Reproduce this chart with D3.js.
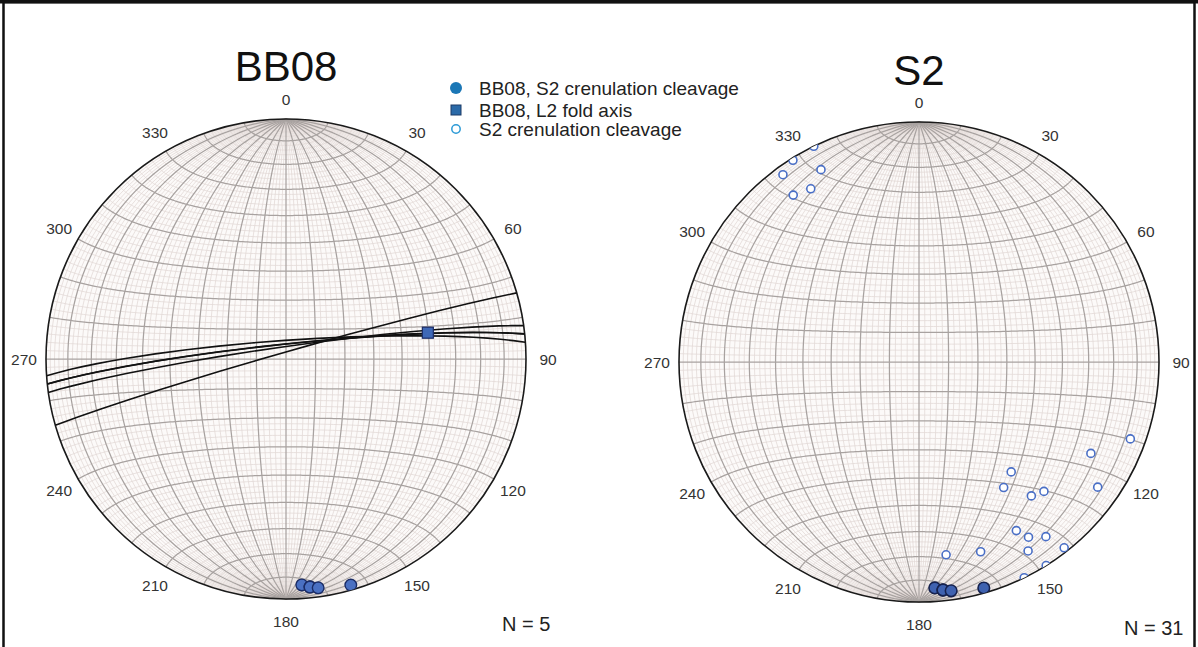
<!DOCTYPE html>
<html lang="en">
<head>
<meta charset="UTF-8">
<title>BB08 / S2 stereonets</title>
<script src="https://d3js.org/d3.v7.min.js"></script>
<style>
  body { margin: 0; background: #fff; font-family: Arial, "Liberation Sans", sans-serif; }
  .minor { fill: none; stroke: #e0d6d3; stroke-width: 0.7px; }
  .major { fill: none; stroke: #a8a2a0; stroke-width: 1.25px; }
  .primitive { fill: none; stroke: #1a1a1a; stroke-width: 1.6px; }
  .plane { fill: none; stroke: #111; stroke-width: 1.6px; }
  .azi { font-size: 15.5px; fill: #333; text-anchor: middle; dominant-baseline: central; }
  .title { font-size: 42px; fill: #111; text-anchor: middle; }
  .count { font-size: 20px; fill: #222; }
  .legend text { font-size: 19px; fill: #222; }
</style>
</head>
<body>
<svg id="chart" width="1198" height="647"></svg>
<script>
// BB08: poles to S2 crenulation cleavage (trend / plunge, degrees)
const bb08Trend = [176, 174, 174, 172, 164];
const bb08Plunge = [6.3, 5.1, 5.0, 4.2, 2.3];

// BB08: L2 fold axis
const foldTrend = [79.5];
const foldPlunge = [39.7];

// S2 crenulation cleavage poles (open circles)
const s2Trend = [110, 118, 140, 146, 140, 136, 125, 150, 148, 144, 142, 150, 172, 162, 148, 154, 334, 328, 333, 324, 328, 323];
const s2Plunge = [7, 20, 40, 37, 28, 26, 10, 20, 15, 11, 2, 10, 20, 18, 0, 0, 0, 1, 11, 4, 16, 14];

const azimuthLabels = [0, 30, 60, 90, 120, 150, 180, 210, 240, 270, 300, 330];

const legendLabels = ["BB08, S2 crenulation cleavage", "BB08, L2 fold axis", "S2 crenulation cleavage"];

const R = 240;
const svg = d3.select("#chart");
const rad = Math.PI / 180;

// trend/plunge (lower hemisphere) -> lon/lat for an equatorial equal-area net
function toLonLat(t, p) {
    const n = Math.cos(p * rad) * Math.cos(t * rad);
    const e = Math.cos(p * rad) * Math.sin(t * rad);
    const d = Math.sin(p * rad);
    return [Math.atan2(e, d) / rad, Math.asin(n) / rad];
}

function planeLine(poleT, poleP) {
    const dipDir = (poleT + 180) % 360, dip = 90 - poleP;
    return {
        type: "LineString",
        coordinates: [toLonLat(dipDir - 90, 0), toLonLat(dipDir, dip), toLonLat(dipDir + 90, 0)]
    };
}

function meridian(lon, lim) {
    return { type: "LineString", coordinates: d3.range(-lim, lim + 0.5, 2).map(lat => [lon, lat]) };
}
function parallel(lat) {
    return { type: "LineString", coordinates: d3.range(-90, 90.5, 1).map(lon => [lon, lat]) };
}

function drawNet(id, cx, cy) {
    const proj = d3.geoAzimuthalEqualArea()
        .scale(R / Math.SQRT2)
        .translate([cx, cy])
        .clipAngle(90)
        .precision(0.1);
    const path = d3.geoPath(proj);
    const g = svg.append("g");

    g.append("circle").attr("cx", cx).attr("cy", cy).attr("r", R).attr("fill", "#fcfaf9");

    const minor = [];
    d3.range(-88, 89, 2).filter(v => v % 10 !== 0).forEach(v => {
        minor.push(meridian(v, 88));
        minor.push(parallel(v));
    });
    const major = [];
    d3.range(-80, 81, 10).forEach(v => {
        major.push(meridian(v, 90));
        major.push(parallel(v));
    });

    g.selectAll(".minor").data(minor).join("path").attr("class", "minor").attr("d", path);
    g.selectAll(".major").data(major).join("path").attr("class", "major").attr("d", path);

    g.append("circle").attr("class", "primitive")
        .attr("cx", cx).attr("cy", cy).attr("r", R);

    g.selectAll(".azi").data(azimuthLabels).join("text")
        .attr("class", "azi")
        .attr("x", d => cx + (R + 22) * Math.sin(d * rad))
        .attr("y", d => cy - (R + 22) * Math.cos(d * rad) + (d === 0 ? 2 : 0))
        .text(d => d);

    svg.append("clipPath").attr("id", id)
        .append("circle").attr("cx", cx).attr("cy", cy).attr("r", R);

    const data = svg.append("g").attr("clip-path", `url(#${id})`);
    return { proj, path, data, g };
}

// frame
svg.append("rect").attr("x", 3.5).attr("y", 2).attr("width", 1191).attr("height", 660)
    .attr("fill", "none").attr("stroke", "#111").attr("stroke-width", 2.5);
svg.append("line").attr("x1", 0).attr("x2", 1198).attr("y1", 1.5).attr("y2", 1.5)
    .attr("stroke", "#111").attr("stroke-width", 4);

// ---- left net: BB08
const left = drawNet("clipL", 286, 359);
const bb08 = bb08Trend.map((t, i) => toLonLat(t, bb08Plunge[i]));

left.data.selectAll(".plane").data(bb08Trend.map((t, i) => planeLine(t, bb08Plunge[i])))
    .join("path").attr("class", "plane").attr("d", left.path);

left.data.selectAll(".pole").data(bb08).join("circle")
    .attr("class", "pole")
    .attr("cx", d => left.proj(d)[0]).attr("cy", d => left.proj(d)[1])
    .attr("r", 5.8).attr("fill", "#4a70c2").attr("stroke", "#1b2c66").attr("stroke-width", 1.4);

const fold = foldTrend.map((t, i) => toLonLat(t, foldPlunge[i]));
svg.selectAll(".fold").data(fold).join("rect")
    .attr("class", "fold")
    .attr("x", d => left.proj(d)[0] - 5.5).attr("y", d => left.proj(d)[1] - 5.5)
    .attr("width", 11).attr("height", 11)
    .attr("fill", "#3f68b6").attr("stroke", "#1b2c66").attr("stroke-width", 1.2);

svg.append("text").attr("class", "title").attr("x", 286).attr("y", 81).text("BB08");
svg.append("text").attr("class", "count").attr("x", 502).attr("y", 631).text("N = 5");

// ---- right net: S2
const right = drawNet("clipR", 919, 362);
const s2 = s2Trend.map((t, i) => toLonLat(t, s2Plunge[i]));

right.data.selectAll(".open").data(s2).join("circle")
    .attr("class", "open")
    .attr("cx", d => right.proj(d)[0]).attr("cy", d => right.proj(d)[1])
    .attr("r", 4).attr("fill", "#fff").attr("stroke", "#4a6fc6").attr("stroke-width", 1.6);

right.data.selectAll(".pole").data(bb08).join("circle")
    .attr("class", "pole")
    .attr("cx", d => right.proj(d)[0]).attr("cy", d => right.proj(d)[1])
    .attr("r", 5.8).attr("fill", "#3f62b0").attr("stroke", "#16224f").attr("stroke-width", 1.6);

svg.append("text").attr("class", "title").attr("x", 919).attr("y", 85).text("S2");
svg.append("text").attr("class", "count").attr("x", 1124).attr("y", 635).text("N = 31");

// ---- legend
const legend = svg.append("g").attr("class", "legend");
const rowY = [88, 110, 129];
legend.append("circle").attr("cx", 456).attr("cy", rowY[0]).attr("r", 6).attr("fill", "#1b77b6");
legend.append("rect").attr("x", 451).attr("y", rowY[1] - 5).attr("width", 10).attr("height", 10)
    .attr("fill", "#2b6aa8").attr("stroke", "#1c3a66").attr("stroke-width", 1);
legend.append("circle").attr("cx", 456).attr("cy", rowY[2]).attr("r", 4.2)
    .attr("fill", "#fff").attr("stroke", "#2c9ad6").attr("stroke-width", 1.5);
legend.selectAll("text").data(legendLabels).join("text")
    .attr("x", 479).attr("y", (d, i) => rowY[i] + 7)
    .text(d => d);
</script>
</body>
</html>
